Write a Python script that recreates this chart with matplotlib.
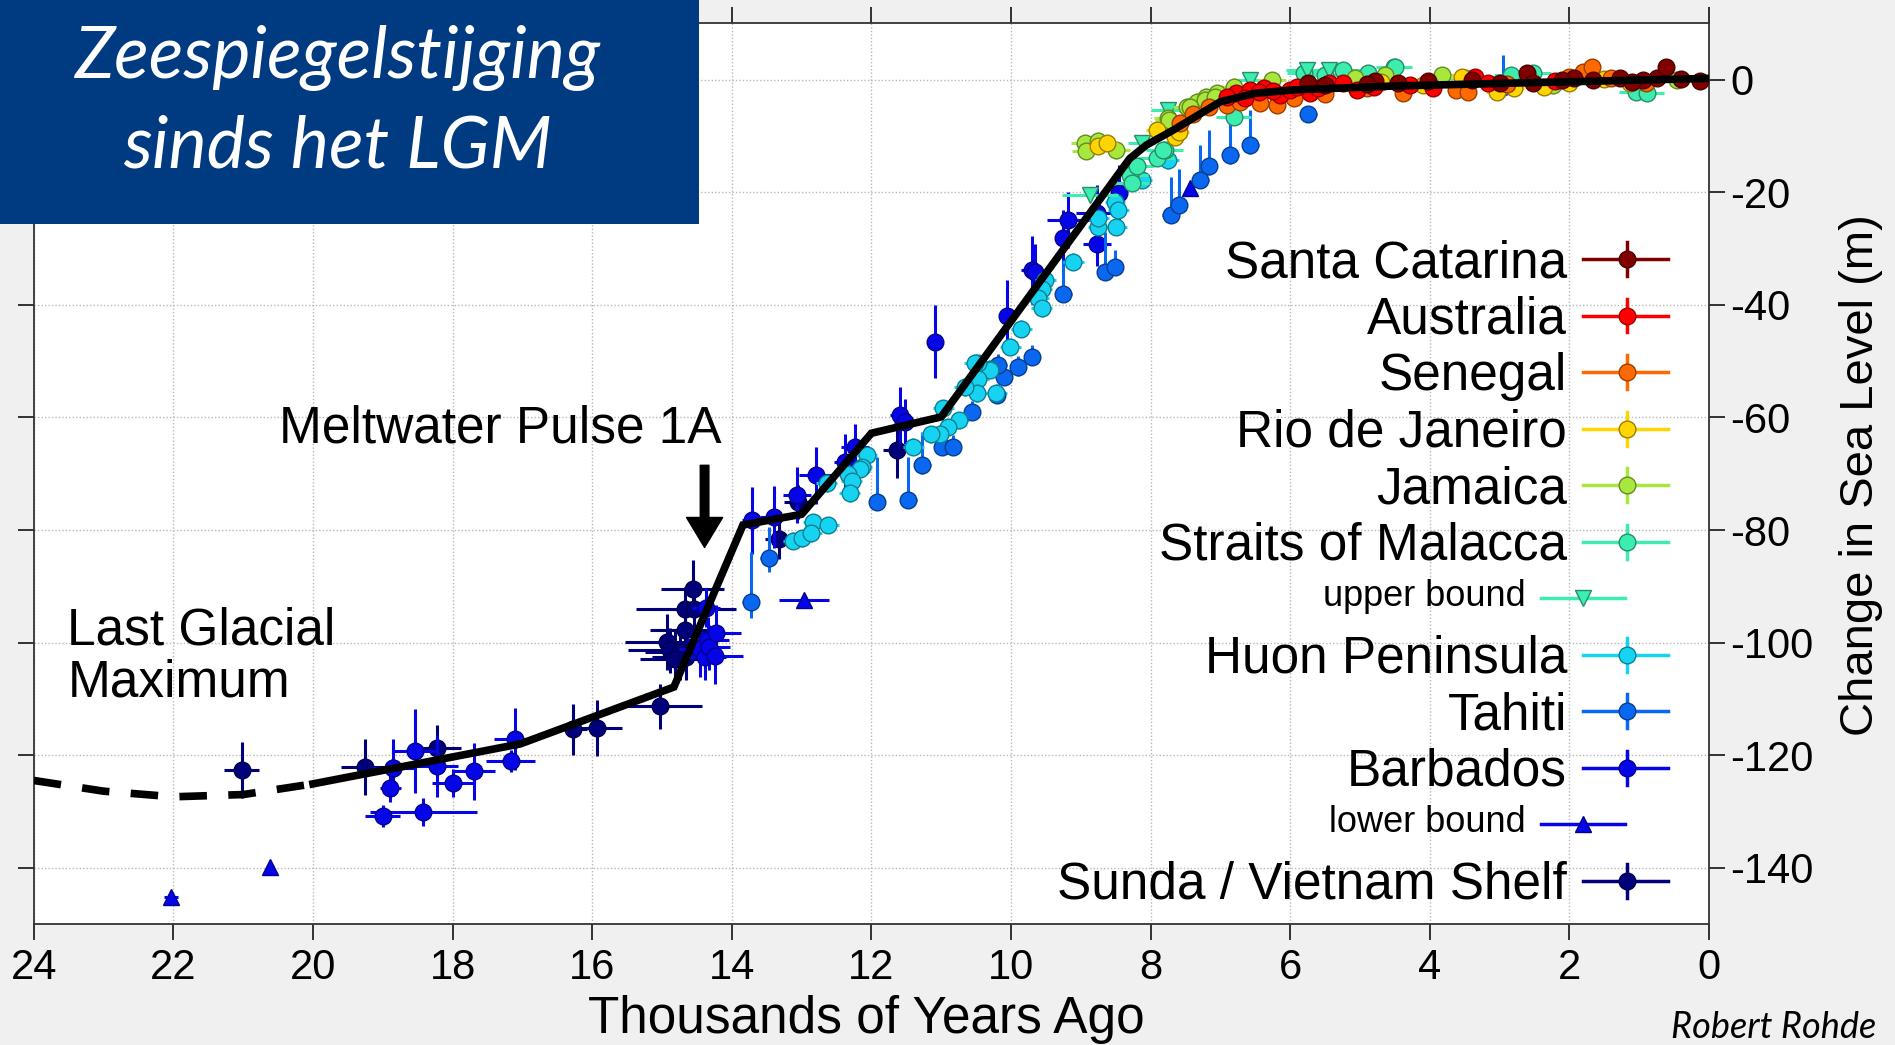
import matplotlib
matplotlib.use('Agg')
import matplotlib.pyplot as plt
from matplotlib.lines import Line2D
from matplotlib.patches import Rectangle
import matplotlib.colors as mcolors

plt.rcParams['font.family'] = ['Liberation Sans', 'DejaVu Sans']
plt.rcParams['axes.unicode_minus'] = False

# ---------------- data (thousands of years ago, metres) ----------------
curve_dash_x = [24, 23, 22, 21, 20]
curve_dash_y = [-124.5, -126.4, -127.4, -127.0, -125.1]
curve_x = [20.0, 17.03, 14.83, 13.84, 13.0, 12.0, 11.0, 8.3, 8.06, 7.67, 7.39, 7.0, 6.5, 5.95, 4.5, 2.0, 0.0]
curve_y = [-125.1, -118.0, -107.9, -79.1, -77.2, -62.8, -59.9, -14.0, -11.6, -8.9, -6.8, -3.9, -2.4, -1.8, -1.1, -0.35, 0.25]

sunda_x = [21.02, 19.25, 18.86, 18.23, 16.28, 15.93, 15.03, 14.56, 14.67, 14.54, 14.67, 14.93, 14.89, 14.74, 14.81, 14.65, 13.32, 13.05, 11.64]
sunda_y = [-122.7, -122.1, -122.2, -118.7, -115.4, -115.2, -111.3, -90.4, -94.1, -94.0, -97.8, -99.9, -101.4, -101.7, -102.9, -102.6, -81.6, -75.0, -65.8]
sunda_xerr = [0.25, 0.35, 0.3, 0.35, 0.2, 0.35, 0.6, 0.45, 0.7, 0.6, 0.5, 0.6, 0.6, 0.5, 0.5, 0.5, 0.2, 0.2, 0.2]
sunda_yerr = [5, 5, 4, 4, 4.5, 5, 4, 5, 4, 5, 5, 5, 4, 5, 5, 4, 3.5, 3, 5]

barbados_x = [19.0, 18.89, 18.86, 18.54, 18.42, 18.22, 18.0, 17.69, 17.17, 17.1, 14.46, 14.38, 14.37, 14.34, 14.32, 14.24, 14.22, 13.71, 13.4, 13.07, 12.79, 12.38, 12.23, 11.59, 11.52, 11.09, 10.06, 9.7, 9.66, 9.25, 9.18, 8.77, 8.77, 8.45]
barbados_y = [-130.8, -125.8, -122.2, -119.3, -130.1, -122.0, -125.0, -122.9, -121.0, -117.1, -101.1, -102.6, -93.8, -99.5, -100.8, -102.3, -98.3, -78.3, -77.7, -73.8, -70.3, -67.9, -65.2, -59.6, -60.8, -46.55, -42.0, -33.8, -34.1, -28.2, -24.9, -23.7, -29.1, -20.2]
barbados_xerr = [0.25, 0.15, 0.3, 0.3, 0.77, 0.3, 0.3, 0.3, 0.35, 0.3, 0.3, 0.3, 0.2, 0.3, 0.3, 0.4, 0.35, 0.15, 0.2, 0.2, 0.25, 0.15, 0.2, 0.15, 0.15, 0.05, 0.1, 0.15, 0.1, 0.1, 0.3, 0.3, 0.2, 0.1]
barbados_yerr = [2, 2.5, 5, 7.5, 2.5, 5.5, 2.5, 5, 2, 5.5, 5, 4, 3.5, 4, 4, 5, 5, 6, 5.5, 5, 5, 5, 4, 5, 4, 6.5, 6.5, 6, 5, 5, 5, 5, 4, 5]

lower_x = [22.03, 20.61, 12.97, 7.43]
lower_y = [-145.2, -139.8, -92.4, -19.3]
lower_xerr = [0.1, 0.05, 0.36, 0.05]

tahiti_x = [13.73, 13.47, 11.92, 11.47, 11.27, 10.99, 10.83, 10.56, 10.2, 10.1, 9.9, 9.7, 10.18, 9.25, 8.65, 8.51, 7.71, 7.6, 7.29, 7.17, 6.86, 6.57, 5.74, 2.95]
tahiti_y = [-92.8, -85.0, -75.0, -74.6, -68.5, -65.2, -65.2, -59.0, -56.0, -52.8, -51.1, -49.2, -50.7, -38.0, -34.1, -33.2, -24.0, -22.3, -17.8, -15.4, -13.4, -11.6, -6.0, -1.2]
tahiti_up = [8.9, 5.5, 8.0, 7.5, 6.0, 2.0, 2.0, 2.0, 2.0, 2.0, 2.0, 2.0, 2.0, 6.0, 7.0, 3.0, 6.8, 6.5, 6.2, 6.5, 5.9, 6.2, 1.2, 5.6]
tahiti_lo = [2.9, 2.5, 1.5, 1.5, 1.5, 1.5, 1.5, 1.5, 1.5, 1.5, 1.5, 1.5, 1.5, 1.5, 1.5, 1.5, 1.5, 1.5, 1.5, 1.5, 1.5, 1.5, 1.2, 1.5]

huon_x = [7.75, 8.13, 8.51, 8.46, 8.49, 8.75, 8.75, 9.11, 9.51, 9.56, 9.61, 9.56, 9.85, 10.01, 10.21, 10.3, 10.3, 10.47, 10.47, 10.49, 10.52, 10.66, 10.75, 10.9, 10.97, 11.02, 11.14, 11.4, 12.07, 12.14, 12.16, 12.33, 12.28, 12.31, 12.64, 12.83, 12.62, 13.12, 12.99, 12.86]
huon_y = [-14.3, -17.8, -21.7, -23.1, -26.1, -26.1, -24.6, -32.3, -35.6, -37.1, -38.8, -40.6, -44.2, -47.4, -55.7, -51.3, -51.5, -50.4, -53.1, -55.7, -50.3, -54.6, -60.5, -61.7, -58.4, -62.9, -63.0, -65.2, -66.7, -68.8, -69.1, -70.0, -71.2, -73.5, -71.7, -78.6, -79.1, -81.9, -81.5, -80.6]

upper_x = [8.87, 8.13, 7.75, 6.57, 5.76, 5.45]
upper_y = [-20.5, -11.3, -5.4, 0.0, 1.74, 1.74]
upper_xerr = [0.4, 0.2, 0.25, 0.2, 0.3, 0.2]

malacca_x = [8.29, 8.2, 8.27, 7.91, 7.79, 7.82, 6.81, 5.24, 4.88, 4.52, 4.5, 2.83, 2.52, 1.04, 0.89, 5.8, 5.5, 3.5]
malacca_y = [-16.9, -15.4, -18.4, -13.9, -12.5, -12.5, -6.55, 1.74, 1.15, 2.3, 2.3, 0.85, 1.15, -2.1, -2.4, 1.2, 0.8, 0.4]

jamaica_x = [8.94, 8.92, 8.75, 8.49, 7.75, 7.74, 7.48, 7.34, 7.2, 7.05, 6.81, 6.26, 5.07, 4.64, 3.83, 2.23, 0.46, 7.43, 7.22, 7.08]
jamaica_y = [-11.3, -12.6, -10.8, -12.5, -6.85, -7.1, -4.8, -3.9, -3.0, -2.4, -1.22, -0.03, 0.26, 0.85, 0.85, -1.0, 0.0, -4.8, -3.6, -3.0]

rio_x = [8.76, 8.63, 7.91, 7.65, 7.6, 3.54, 3.04, 2.8, 2.37, 1.13, 4.7, 4.1, 2.0, 1.5]
rio_y = [-11.8, -11.3, -8.9, -10.1, -9.2, 0.56, -2.1, -1.5, -1.2, -0.6, -0.4, -1.0, -0.5, 0.2]

senegal_x = [7.58, 7.39, 7.17, 6.91, 6.72, 6.43, 6.19, 5.95, 4.38, 3.62, 3.45, 1.8, 1.68, 5.5, 4.9, 2.9, 2.0, 1.4, 0.9]
senegal_y = [-7.7, -6.0, -4.8, -4.5, -3.9, -4.2, -4.5, -3.3, -2.4, -1.8, -2.1, 1.44, 2.3, -2.6, -1.5, -0.8, 0.5, 0.3, -0.5]

australia_x = [6.77, 6.57, 6.38, 6.14, 6.0, 5.71, 5.45, 5.24, 5.05, 4.8, 4.28, 3.95, 3.35, 3.16, 2.2, 6.9, 6.65, 6.45, 6.25, 5.9, 5.6]
australia_y = [-2.4, -1.8, -1.5, -2.7, -1.8, -2.4, -0.6, -0.6, -1.8, -1.2, -0.9, -1.5, 0.56, -0.6, -0.3, -3.0, -3.2, -2.2, -2.0, -1.2, -1.5]

catarina_x = [5.74, 4.78, 4.45, 4.02, 3.0, 2.61, 2.52, 1.94, 1.66, 1.27, 0.94, 0.75, 0.61, 0.13, 5.5, 4.9, 3.4, 2.1, 1.1, 0.4]
catarina_y = [-0.6, -0.3, -0.6, -0.3, -0.5, 1.15, -0.6, 0.26, -0.03, 0.26, 0.0, 0.26, 2.3, -0.3, -1.0, -0.8, 0.0, 0.0, -0.4, 0.1]

legend_labels = ['Santa Catarina', 'Australia', 'Senegal', 'Rio de Janeiro', 'Jamaica',
                 'Straits of Malacca', 'upper bound', 'Huon Peninsula', 'Tahiti', 'Barbados',
                 'lower bound', 'Sunda / Vietnam Shelf']
xticks = [24, 22, 20, 18, 16, 14, 12, 10, 8, 6, 4, 2, 0]
yticks = [0, -20, -40, -60, -80, -100, -120, -140]

# ---------------- colours ----------------
C = {
    'Santa Catarina': '#800000', 'Australia': '#FF0000', 'Senegal': '#FF6A00',
    'Rio de Janeiro': '#FFD400', 'Jamaica': '#A8E83C', 'Straits of Malacca': '#3DEDAF',
    'Huon Peninsula': '#17D3F2', 'Tahiti': '#0A68F0', 'Barbados': '#0505E8',
    'Sunda / Vietnam Shelf': '#00007A',
}
C['upper bound'] = C['Straits of Malacca']
C['lower bound'] = C['Barbados']


def darker(c, f=0.6):
    r, g, b = mcolors.to_rgb(c)
    return (r * f, g * f, b * f)


W, H = 1895, 1045
fig = plt.figure(figsize=(W / 100, H / 100), dpi=100, facecolor='#F0F0F0')
ax = fig.add_axes([33.8 / W, 1 - 924 / H, (1709 - 33.8) / W, (924 - 23.5) / H])
ax.set_facecolor('white')
ax.set_xlim(24, 0)
ax.set_ylim(-150, 10)

MS = 12


def series(x, y, name, xerr, yerr, marker='o', z=3):
    c = C[name]
    ax.errorbar(x, y, xerr=xerr, yerr=yerr, fmt=marker, ms=MS, mfc=c, mec=darker(c),
                mew=1, ecolor=c, elinewidth=2.2, capsize=0, zorder=z)


series(sunda_x, sunda_y, 'Sunda / Vietnam Shelf', sunda_xerr, sunda_yerr, z=3)
series(barbados_x, barbados_y, 'Barbados', barbados_xerr, barbados_yerr, z=3.1)
series(lower_x, lower_y, 'lower bound', lower_xerr, None, marker='^', z=3.1)
series(tahiti_x, tahiti_y, 'Tahiti', 0.12, [tahiti_lo, tahiti_up], z=3.2)
series(huon_x, huon_y, 'Huon Peninsula', 0.15, 1.5, z=3.3)
series(malacca_x, malacca_y, 'Straits of Malacca', 0.25, 1.0, z=3.4)
series(upper_x, upper_y, 'upper bound', upper_xerr, None, marker='v', z=3.4)
series(jamaica_x, jamaica_y, 'Jamaica', 0.2, 1.5, z=3.5)
series(rio_x, rio_y, 'Rio de Janeiro', 0.15, 1.2, z=3.6)
series(senegal_x, senegal_y, 'Senegal', 0.1, 1.2, z=3.7)
series(australia_x, australia_y, 'Australia', 0.1, 0.8, z=3.8)
series(catarina_x, catarina_y, 'Santa Catarina', 0.1, 0.6, z=3.9)

ax.plot(curve_x, curve_y, color='black', lw=5.5, zorder=6, solid_joinstyle='miter')
ax.plot(curve_dash_x, curve_dash_y, color='black', lw=5.5, ls=(0, (3.6, 2.8)), zorder=6)

# axes styling
ax.set_xticks(xticks)
ax.set_xticklabels([str(t) for t in xticks])
ax.set_yticks(yticks)
ax.set_yticklabels([str(t) for t in yticks])
ax.grid(True, color='#B8B8B8', lw=1, ls=(0, (1, 1.5)), zorder=0)
ax.tick_params(axis='both', direction='out', length=11.5, width=1.3, colors='#222222',
               labelcolor='black', labelsize=30)
ax.tick_params(axis='x', top=True, bottom=True, labeltop=False, labelbottom=True, pad=6)
ax.tick_params(axis='y', left=True, right=True, labelleft=False, labelright=True, pad=4)
for s in ax.spines.values():
    s.set_color('#333333')
    s.set_linewidth(1.3)

ax.set_xlabel('Thousands of Years Ago', fontsize=37)
ax.xaxis.label.set_verticalalignment('center')
ax.xaxis.set_label_coords((866.5 - 33.8) / 1675.2, 1 - (1019 - 23.5) / 900.5)
ax.yaxis.set_label_position('right')
ax.set_ylabel('Change in Sea Level (m)', fontsize=34)
ax.yaxis.label.set_verticalalignment('center')
ax.yaxis.set_label_coords((1861 - 33.8) / 1675.2, 1 - (475 - 23.5) / 900.5)

# annotations
ax.text(14.15, -62.1, 'Meltwater Pulse 1A', fontsize=37, ha='right', va='center', zorder=7)
ax.annotate('', xy=(14.39, -83.1), xytext=(14.39, -68.5),
            arrowprops=dict(arrowstyle='simple,head_length=1.08,head_width=1.3,tail_width=0.31',
                            color='black', shrinkA=0, shrinkB=0, mutation_scale=20), zorder=7)
ax.text(23.52, -102.6, 'Last Glacial\nMaximum', fontsize=37, ha='left', va='center',
        linespacing=1.08, zorder=7)


# legend (manual, in figure pixel coordinates)
def P(x, y):
    return (x / W, 1 - y / H)


for i, lab in enumerate(legend_labels):
    y = 259 + 56.5 * i
    c = C[lab]
    if 'bound' in lab:
        x0, x1, xm = 1541, 1625, 1583
        mk = 'v' if lab.startswith('upper') else '^'
        fig.text(*P(1526, y + 7.5), lab, fontsize=26, ha='right', va='baseline')
        fig.add_artist(Line2D([P(x0, y)[0], P(x1, y)[0]], [P(x0, y)[1]] * 2, color=c, lw=2.5))
        fig.add_artist(Line2D([P(xm, y)[0]], [P(xm, y)[1]], marker=mk, ms=MS, mfc=c,
                              mec=darker(c), mew=1, ls='none'))
    else:
        x0, x1, xm = 1583, 1668, 1627
        fig.text(*P(1567, y + 18), lab, fontsize=37, ha='right', va='baseline')
        fig.add_artist(Line2D([P(x0, y)[0], P(x1, y)[0]], [P(x0, y)[1]] * 2, color=c, lw=2.5))
        fig.add_artist(Line2D([P(xm, y)[0]] * 2, [P(xm, y - 17)[1], P(xm, y + 17)[1]], color=c, lw=2.5))
        fig.add_artist(Line2D([P(xm, y)[0]], [P(xm, y)[1]], marker='o', ms=MS, mfc=c,
                              mec=darker(c), mew=1, ls='none'))

# title box
fig.add_artist(Rectangle((0, 1 - 223.5 / H), 698.5 / W, 223.5 / H, transform=fig.transFigure,
                         facecolor='#003A80', edgecolor='none', zorder=10))
fig.text(*P(338, 58), 'Zeespiegelstijging', fontsize=52, style='italic', color='white',
         ha='center', va='center', family=['Lato', 'Open Sans', 'DejaVu Sans'], zorder=11)
fig.text(*P(338, 147), 'sinds het LGM', fontsize=52, style='italic', color='white',
         ha='center', va='center', family=['Lato', 'Open Sans', 'DejaVu Sans'], zorder=11)
fig.text(*P(1774, 1027), 'Robert Rohde', fontsize=26, style='italic', color='black',
         ha='center', va='center', family=['Lato', 'Open Sans', 'DejaVu Sans'])

fig.savefig('out.png', dpi=100, facecolor=fig.get_facecolor())
